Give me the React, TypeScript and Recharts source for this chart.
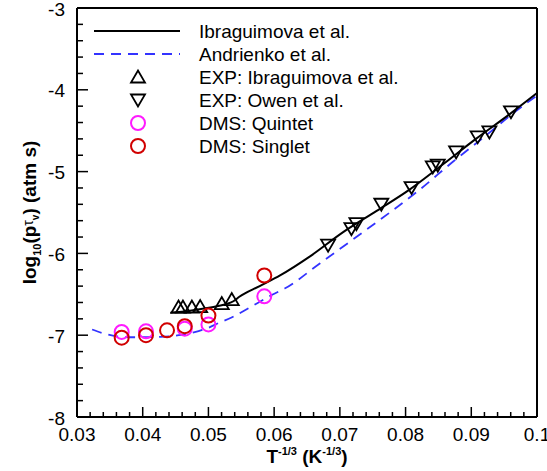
import React from "react";
import {
  ComposedChart,
  Line,
  Scatter,
  XAxis,
  YAxis,
  ReferenceLine,
  Customized,
} from "recharts";

// model curves
const ibraModelX = [0.0442, 0.0472, 0.0503, 0.0525, 0.0538, 0.0547, 0.0578, 0.0609, 0.0654, 0.0705, 0.0756, 0.0806, 0.0857, 0.0907, 0.0958, 0.1];
const ibraModelY = [-6.725, -6.7, -6.66, -6.625, -6.585, -6.53, -6.4, -6.27, -6.04, -5.74, -5.48, -5.22, -4.91, -4.6, -4.3, -4.04];

const andrX = [0.0323, 0.0341, 0.0361, 0.038, 0.0427, 0.0455, 0.0485, 0.05, 0.0513, 0.0536, 0.0563, 0.0601, 0.0616, 0.067, 0.0725, 0.0776, 0.082, 0.0872, 0.0922, 0.0968, 0.1];
const andrY = [-6.93, -6.98, -7.015, -7.025, -7.02, -7.0, -6.95, -6.91, -6.86, -6.78, -6.66, -6.49, -6.43, -6.12, -5.8, -5.5, -5.23, -4.88, -4.56, -4.26, -4.07];

// experiments
const expIbraX = [0.04545, 0.04612, 0.04748, 0.04874, 0.05203, 0.05355];
const expIbraY = [-6.656, -6.656, -6.656, -6.65, -6.614, -6.565];

const expOwenX = [0.06821, 0.07176, 0.07252, 0.07631, 0.08091, 0.08414, 0.0849, 0.08769, 0.09097, 0.09275, 0.09604];
const expOwenY = [-5.9, -5.697, -5.636, -5.399, -5.195, -4.943, -4.922, -4.759, -4.575, -4.514, -4.269];

// DMS
const quintetX = [0.0368, 0.0405, 0.0464, 0.05, 0.0585];
const quintetY = [-6.96, -6.953, -6.92, -6.868, -6.525];

const singletX = [0.0368, 0.0405, 0.0437, 0.0464, 0.05, 0.0585];
const singletY = [-7.03, -7.0, -6.94, -6.89, -6.76, -6.27];

const xMajor = [0.03, 0.04, 0.05, 0.06, 0.07, 0.08, 0.09, 0.1];
const xMajorLabels = ["0.03", "0.04", "0.05", "0.06", "0.07", "0.08", "0.09", "0.1"];
const yMajor = [-8, -7, -6, -5, -4, -3];
const yMajorLabels = ["-8", "-7", "-6", "-5", "-4", "-3"];

const legendNames = [
  "Ibraguimova et al.",
  "Andrienko et al.",
  "EXP: Ibraguimova et al.",
  "EXP: Owen et al.",
  "DMS: Quintet",
  "DMS: Singlet",
];

const zip = (xs: number[], ys: number[]) => xs.map((x, i) => ({ x, y: ys[i] }));

const withMinor = (majors: number[], n: number) => {
  const out: number[] = [];
  for (let i = 0; i < majors.length - 1; i++) {
    const step = (majors[i + 1] - majors[i]) / n;
    for (let k = 0; k < n; k++) out.push(+(majors[i] + k * step).toFixed(6));
  }
  out.push(majors[majors.length - 1]);
  return out;
};

const FONT = "'Liberation Sans', Arial, Helvetica, sans-serif";
const FS = 19;
const BLUE = "#3333ff";
const MAGENTA = "#ff1aff";
const RED = "#d10000";

const LEFT = 77;
const TOP = 8;
const RIGHT = 537;
const BOTTOM = 417;

const findMajor = (arr: number[], v: number) =>
  arr.findIndex((m) => Math.abs(m - v) < 1e-6);

const XTick = (props: any) => {
  const { x, payload } = props;
  const idx = findMajor(xMajor, payload.value);
  return (
    <g>
      <line x1={x} x2={x} y1={BOTTOM} y2={BOTTOM - (idx >= 0 ? 10 : 5)} stroke="#000" strokeWidth={1.5} />
      {idx >= 0 && (
        <text x={x} y={BOTTOM + 17} textAnchor="middle" dominantBaseline="central" fontSize={FS} fontFamily={FONT} fill="#000">
          {xMajorLabels[idx]}
        </text>
      )}
    </g>
  );
};

const YTick = (props: any) => {
  const { y, payload } = props;
  const idx = findMajor(yMajor, payload.value);
  return (
    <g>
      <line x1={LEFT} x2={LEFT + (idx >= 0 ? 11 : 6)} y1={y} y2={y} stroke="#000" strokeWidth={1.5} />
      {idx >= 0 && (
        <text x={LEFT - 12} y={y + 1} textAnchor="end" dominantBaseline="central" fontSize={FS} fontFamily={FONT} fill="#000">
          {yMajorLabels[idx]}
        </text>
      )}
    </g>
  );
};

const triUp = (cx: number, cy: number) =>
  `M${cx - 7},${cy + 5.5} L${cx + 7},${cy + 5.5} L${cx},${cy - 6.5} Z`;
const triDown = (cx: number, cy: number) =>
  `M${cx - 7},${cy - 5.5} L${cx + 7},${cy - 5.5} L${cx},${cy + 6.5} Z`;

const UpShape = (p: any) => <path d={triUp(p.cx, p.cy)} fill="none" stroke="#000" strokeWidth={1.8} />;
const DownShape = (p: any) => <path d={triDown(p.cx, p.cy)} fill="none" stroke="#000" strokeWidth={1.8} />;
const circleShape = (color: string) => (p: any) =>
  <circle cx={p.cx} cy={p.cy} r={7} fill="none" stroke={color} strokeWidth={2} />;

const Decor = () => {
  const rows = [31, 54, 77, 100, 123, 146];
  const mx = 138;
  return (
    <g fontFamily={FONT}>
      <line x1={94} x2={180} y1={rows[0]} y2={rows[0]} stroke="#000" strokeWidth={2} />
      <line x1={94} x2={180} y1={rows[1]} y2={rows[1]} stroke={BLUE} strokeWidth={1.8} strokeDasharray="10 7" />
      <path d={triUp(mx, rows[2])} fill="none" stroke="#000" strokeWidth={1.8} />
      <path d={triDown(mx, rows[3])} fill="none" stroke="#000" strokeWidth={1.8} />
      <circle cx={mx} cy={rows[4]} r={7} fill="none" stroke={MAGENTA} strokeWidth={2} />
      <circle cx={mx} cy={rows[5]} r={7} fill="none" stroke={RED} strokeWidth={2} />
      {legendNames.map((n, i) => (
        <text key={n} x={199} y={rows[i]} dominantBaseline="central" fontSize={FS} fill="#000">
          {n}
        </text>
      ))}
      <text x={(LEFT + RIGHT) / 2} y={463} textAnchor="middle" fontSize={FS} fontWeight="bold" fill="#000">
        T<tspan fontSize={11} dy={-8}>-1/3</tspan>
        <tspan dy={8}> (K</tspan>
        <tspan fontSize={11} dy={-8}>-1/3</tspan>
        <tspan dy={8}>)</tspan>
      </text>
      <text
        x={0}
        y={0}
        transform={`translate(36, ${(TOP + BOTTOM) / 2}) rotate(-90)`}
        textAnchor="middle"
        fontSize={FS}
        fontWeight="bold"
        fill="#000"
      >
        log<tspan fontSize={11} dy={5}>10</tspan>
        <tspan dy={-5}>(p</tspan>
        <tspan fontSize={14} fontWeight="normal" dy={-3}>τ</tspan>
        <tspan fontSize={10} dy={6}>v</tspan>
        <tspan dy={-3}>) (atm s)</tspan>
      </text>
    </g>
  );
};

export default function App() {
  const xTicks = withMinor(xMajor, 5);
  const yTicks = withMinor(yMajor, 5);
  return (
    <div style={{ position: "absolute", left: 0, top: 0, background: "#fff" }}>
      <ComposedChart
        width={547}
        height={471}
        margin={{ top: TOP, right: 547 - RIGHT, bottom: 24, left: 17 }}
      >
        <XAxis
          type="number"
          dataKey="x"
          domain={[0.03, 0.1]}
          ticks={xTicks}
          interval={0}
          allowDataOverflow
          height={30}
          tickLine={false}
          axisLine={{ stroke: "#000", strokeWidth: 2 }}
          tick={<XTick />}
        />
        <YAxis
          type="number"
          dataKey="y"
          domain={[-8, -3]}
          ticks={yTicks}
          interval={0}
          allowDataOverflow
          width={60}
          tickLine={false}
          axisLine={{ stroke: "#000", strokeWidth: 2 }}
          tick={<YTick />}
        />
        <ReferenceLine x={0.1} stroke="#000" strokeWidth={2} />
        <ReferenceLine y={-3} stroke="#000" strokeWidth={2} />
        <Line
          data={zip(andrX, andrY)}
          dataKey="y"
          type="monotone"
          stroke={BLUE}
          strokeWidth={1.8}
          strokeDasharray="10 7"
          dot={false}
          activeDot={false}
          isAnimationActive={false}
        />
        <Line
          data={zip(ibraModelX, ibraModelY)}
          dataKey="y"
          type="monotone"
          stroke="#000"
          strokeWidth={2}
          dot={false}
          activeDot={false}
          isAnimationActive={false}
        />
        <Scatter data={zip(expIbraX, expIbraY)} shape={UpShape} isAnimationActive={false} />
        <Scatter data={zip(expOwenX, expOwenY)} shape={DownShape} isAnimationActive={false} />
        <Scatter data={zip(quintetX, quintetY)} shape={circleShape(MAGENTA)} isAnimationActive={false} />
        <Scatter data={zip(singletX, singletY)} shape={circleShape(RED)} isAnimationActive={false} />
        <Customized component={Decor} />
      </ComposedChart>
    </div>
  );
}
